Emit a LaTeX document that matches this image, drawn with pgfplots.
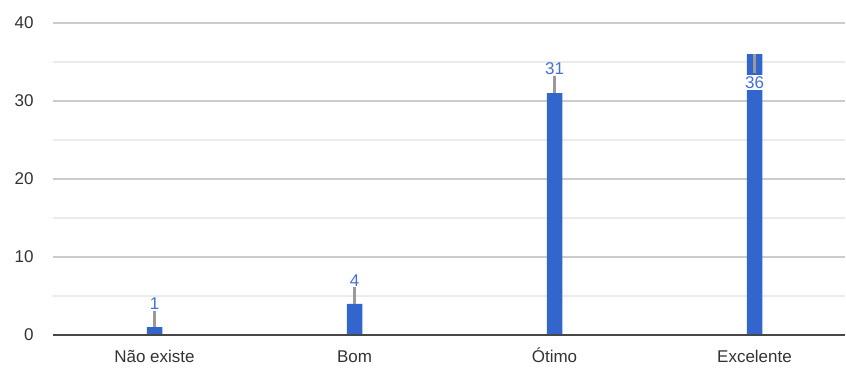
\documentclass[border=0pt]{standalone}
\usepackage{pgfplots}
\pgfplotsset{compat=1.18}
\usepackage{fontspec}
\setmainfont{Liberation Sans}
\definecolor{barblue}{HTML}{3366CC}
\definecolor{lblblue}{HTML}{4470DA}
\definecolor{gridmaj}{HTML}{CCCCCC}
\definecolor{gridmin}{HTML}{EBEBEB}
\definecolor{tickgray}{HTML}{333333}
\begin{document}
\begin{tikzpicture}
\begin{axis}[
  scale only axis, width=792pt, height=312pt,
  xmin=-0.5075, xmax=3.4525, ymin=0, ymax=40,
  axis line style={draw=none},
  xtick={0,1,2,3},
  xticklabels={Não existe,Bom,Ótimo,Excelente},
  ytick={0,10,20,30,40},
  minor ytick={5,15,25,35},
  ymajorgrids, yminorgrids,
  major grid style={gridmaj, line width=2pt},
  minor grid style={gridmin, line width=2pt},
  major tick length=0pt, minor tick length=0pt,
  tick style={draw=none},
  /pgf/number format/assume math mode=true,
  ticklabel style={font=\fontsize{17}{19}\selectfont, text=tickgray},
  xticklabel style={anchor=base, yshift=-27pt},
  yticklabel style={anchor=east, xshift=-16pt},
  clip=false,
]
\addplot[ybar, bar width=15.5pt, fill=barblue, draw=none] coordinates {(0,1) (1,4) (2,31) (3,36)};
% baseline
\addplot[tickgray!90, line width=1.8pt, forget plot] coordinates {(-0.5075,0) (3.4525,0)};
% leader lines
\addplot[gray!80, line width=2.5pt] coordinates {(0,1) (0,3.1)};
\addplot[gray!80, line width=2.5pt] coordinates {(1,4) (1,6.1)};
\addplot[gray!80, line width=2.5pt] coordinates {(2,31) (2,33.2)};
\addplot[gray!80, line width=2.5pt] coordinates {(3,36) (3,33.6)};
% labels
\addplot[draw=none, mark=none, nodes near coords, point meta=explicit symbolic,
  every node near coord/.append style={font=\fontsize{17}{18}\selectfont, text=lblblue, anchor=south, inner sep=1pt}]
  coordinates {(0,3.1) [1] (1,6.1) [4] (2,33.2) [31]};
\addplot[draw=none, mark=none, nodes near coords, point meta=explicit symbolic,
  every node near coord/.append style={font=\fontsize{17}{18}\selectfont, text=lblblue, anchor=center, fill=white, inner xsep=0pt, inner ysep=1.5pt}]
  coordinates {(3,32.4) [36]};
\end{axis}
\pgfresetboundingbox
\path[use as bounding box] (-53pt,-32pt) rectangle (793pt,335pt);
\end{tikzpicture}
\end{document}
